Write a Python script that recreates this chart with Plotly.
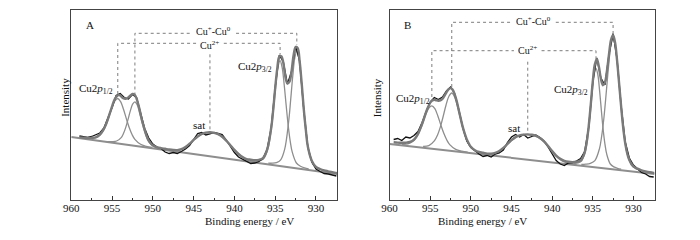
import plotly.graph_objects as go

# ---------------- Panel A data ----------------
A_bg_E = [960, 927.4]
A_bg_I = [63.0, 26.0]

A_c1_E = [958.5, 957.8, 957.1, 956.4, 956.05, 955.7, 955.35, 955.0, 954.65, 954.3,
          953.95, 953.6, 953.25, 952.9, 952.55, 952.2, 951.5, 950.8, 950.1]
A_c1_I = [62.0, 61.6, 62.0, 65.4, 69.5, 75.7, 83.8, 92.4, 99.2, 101.5,
          98.4, 90.8, 81.4, 72.5, 65.5, 60.6, 55.7, 53.7, 52.5]

A_c2_E = [955.55, 955.0, 954.44, 953.88, 953.6, 953.32, 953.04, 952.76, 952.48, 952.2,
          951.92, 951.64, 951.36, 951.08, 950.8, 950.52, 949.96, 949.4, 948.85]
A_c2_I = [58.4, 58.4, 59.0, 62.4, 66.5, 72.6, 80.6, 89.1, 95.8, 98.1,
          95.2, 87.8, 78.7, 70.1, 63.4, 58.6, 53.8, 52.1, 50.9]

A_sat_E = [949, 948, 947, 946.5, 946, 945.5, 945, 944.5, 944, 943.5, 943, 942.5, 942,
           941.5, 941, 940.5, 940, 939.5, 939, 938.5, 938, 937.5, 937]
A_sat_I = [50.6, 49.8, 49.4, 50.4, 52.6, 56.0, 59.8, 63.3, 65.8, 67.2, 67.6, 67.0, 65.6,
           63.0, 59.2, 54.6, 49.8, 45.6, 42.4, 40.2, 38.8, 37.8, 37.1]

A_c4_E = [937.9, 937.4, 936.9, 936.4, 935.9, 935.4, 935.15, 934.9, 934.65, 934.4,
          934.15, 933.9, 933.65, 933.4, 933.15, 932.9, 932.4, 931.9, 931.4, 930.9]
A_c4_I = [39.0, 38.9, 39.4, 41.5, 50.9, 76.2, 95.9, 116.6, 133.2, 139.3,
          132.7, 115.5, 94.2, 74.0, 58.4, 47.6, 37.0, 33.8, 32.1, 31.0]

A_c5_E = [935.85, 935.35, 934.85, 934.35, 933.85, 933.35, 933.1, 932.85, 932.6, 932.35,
          932.1, 931.85, 931.6, 931.35, 931.1, 930.85, 930.35, 929.85, 929.35, 928.85]
A_c5_I = [36.8, 36.8, 37.4, 39.8, 50.3, 78.5, 100.5, 123.7, 142.2, 149.0,
          141.7, 122.6, 98.8, 76.3, 59.0, 47.0, 35.4, 31.8, 30.2, 29.0]

A_env_E = [959, 958.5, 958, 957.5, 957, 956.5, 956, 955.75, 955.5, 955.25, 955, 954.75,
           954.5, 954.25, 954, 953.75, 953.5, 953.25, 953, 952.75, 952.5, 952.25, 952,
           951.75, 951.5, 951.25, 951, 950.75, 950.5, 950.25, 950, 949.5, 949, 948.5, 948,
           947.5, 947, 946.5, 946, 945.5, 945, 944.5, 944, 943.5, 943, 942.5, 942, 941.5,
           941, 940.5, 940, 939.5, 939, 938.5, 938, 937.5, 937, 936.5, 936, 935.5, 935.25,
           935, 934.75, 934.5, 934.25, 934, 933.75, 933.5, 933.25, 933, 932.75, 932.5,
           932.25, 932, 931.75, 931.5, 931.25, 931, 930.5, 930, 929.5, 929, 928.5, 928, 927.4]
A_env_I = [62.6, 62.3, 62.0, 62.2, 62.6, 65.4, 71.2, 75.5, 81.1, 87.3, 93.5, 99.6,
           103.0, 104.9, 104.6, 102.4, 101.5, 101.3, 102.6, 104.5, 106.0, 105.4, 101.5,
           94.6, 85.8, 77.2, 70.4, 64.0, 59.4, 56.5, 54.8, 52.9, 51.9, 51.2, 50.5,
           50.0, 49.9, 50.8, 53.0, 56.3, 60.1, 63.5, 66.0, 67.4, 67.8, 67.2, 65.8, 63.2,
           59.4, 54.8, 50.1, 46.0, 42.9, 40.9, 40.3, 39.8, 40.2, 41.9, 50.1, 71.5, 89.6,
           112.0, 131.4, 143.2, 143.8, 137.0, 123.1, 116.5, 118.3, 128.3, 144.6, 152.8,
           152.0, 138.5, 116.6, 91.2, 70.6, 53.6, 39.1, 33.1, 31.0, 29.6, 28.7, 27.8, 26.8]

A_raw_E = [959.0, 958.5, 958.0, 957.5, 957.0, 956.5, 956.0, 955.5, 955.0, 954.5, 954.0,
           953.5, 953.0, 952.5, 952.0, 951.5, 951.0, 950.5, 950.0, 949.5, 949.0, 948.5,
           948.0, 947.5, 947.0, 946.5, 946.0, 945.5, 945.0, 944.5, 944.0, 943.5, 943.0,
           942.5, 942.0, 941.5, 941.0, 940.5, 940.0, 939.5, 939.0, 938.5, 938.0, 937.5,
           937.0, 936.5, 936.0, 935.5, 935.0, 934.5, 934.0, 933.5, 933.0, 932.5, 932.0,
           931.5, 931.0, 930.5, 930.0, 929.5, 929.0, 928.5, 928.0, 927.5]
A_raw_I = [64.0, 63.0, 62.5, 63.5, 65.5, 67.0, 72.0, 81.5, 92.5, 104.5, 106.5,
           102.5, 101.0, 105.5, 102.5, 87.0, 71.5, 62.0, 56.0, 53.0, 51.5, 48.0,
           46.5, 47.5, 46.5, 48.5, 51.0, 54.5, 60.5, 66.5, 67.5, 65.0, 66.0,
           67.5, 66.5, 65.5, 60.0, 53.0, 47.5, 43.0, 41.0, 38.5, 36.5, 37.0,
           38.5, 41.5, 50.5, 72.0, 113.0, 145.0, 138.0, 116.0, 128.5, 154.0, 139.0,
           91.0, 53.0, 38.0, 31.0, 28.5, 26.5, 26.0, 25.0, 24.0]

# leader lines / labels panel A
A_mix_E = [952.2, 932.35]
A_mix_top = [104.5, 155.0]
A_mix_level = 166.7
A_mix_label_E = 942.55
A_cu2_E = [954.3, 934.4]
A_cu2_top = [106.0, 145.5]
A_cu2_level = 156.7
A_cu2_label_E = 943.0
A_sat_peak = [943.0, 69.5]

# ---------------- Panel B data ----------------
B_bg_E = [960, 927.4]
B_bg_I = [56.0, 26.0]

B_c1_E = [958.48, 957.74, 957.0, 956.64, 956.27, 955.9, 955.54, 955.17, 954.8,
          954.43, 954.06, 953.7, 953.33, 952.96, 952.6, 951.86, 951.12, 950.39]
B_c1_I = [55.7, 56.1, 59.4, 63.4, 69.4, 77.1, 85.4, 92.0, 94.2,
          91.3, 84.0, 75.1, 66.7, 60.0, 55.4, 50.7, 48.9, 47.9]

B_c2_E = [955.88, 955.17, 954.47, 954.11, 953.76, 953.41, 953.06, 952.7, 952.35,
          952.0, 951.64, 951.29, 950.94, 950.59, 950.23, 949.53, 948.82, 948.11]
B_c2_I = [53.7, 54.4, 59.3, 64.8, 72.9, 83.5, 94.8, 103.8, 107.0,
          103.1, 93.5, 81.6, 70.3, 61.6, 55.4, 49.3, 47.2, 46.0]

B_sat_E = [948.5, 948, 947.5, 947, 946.5, 946, 945.5, 945, 944.5, 944, 943.5, 943, 942.5,
           942, 941.5, 941, 940.5, 940, 939.5, 939, 938.5, 938, 937.5, 937]
B_sat_I = [45.6, 45.2, 45.4, 46.4, 48.4, 51.6, 55.6, 59.6, 62.6, 64.4, 65.2, 65.4, 65.0,
           63.8, 61.6, 58.2, 53.6, 48.4, 43.8, 40.4, 38.2, 36.8, 35.9, 35.3]

B_c4_E = [937.69, 937.25, 936.8, 936.36, 935.92, 935.7, 935.48, 935.26, 935.04, 934.82, 934.6,
          934.38, 934.16, 933.94, 933.72, 933.5, 933.28, 932.84, 932.4, 931.95, 931.51]
B_c4_I = [36.5, 36.6, 37.1, 39.2, 48.2, 57.9, 72.0, 90.6, 110.2, 125.9, 131.6,
          125.5, 109.4, 89.4, 70.4, 55.9, 45.8, 36.0, 33.1, 31.7, 30.8]

B_c5_E = [936.41, 935.85, 935.3, 934.74, 934.18, 933.9, 933.62, 933.34, 933.06, 932.78, 932.5,
          932.22, 931.94, 931.66, 931.38, 931.1, 930.82, 930.26, 929.7, 929.15, 928.59]
B_c5_I = [35.6, 35.8, 36.6, 39.4, 51.2, 64.1, 82.8, 107.5, 133.4, 154.0, 161.7,
          153.5, 132.4, 105.9, 80.8, 61.5, 48.1, 35.2, 31.4, 29.6, 28.4]

B_env_E = [959.5, 959, 958.5, 958, 957.5, 957, 956.5, 956.25, 956, 955.75, 955.5, 955.25,
           955, 954.75, 954.5, 954.25, 954, 953.75, 953.5, 953.25, 953, 952.75, 952.5,
           952.25, 952, 951.75, 951.5, 951.25, 951, 950.75, 950.5, 950.25, 950, 949.5,
           949, 948.5, 948, 947.5, 947, 946.5, 946, 945.5, 945, 944.5, 944, 943.5, 943,
           942.5, 942, 941.5, 941, 940.5, 940, 939.5, 939, 938.5, 938, 937.5, 937, 936.5,
           936.25, 936, 935.75, 935.5, 935.25, 935, 934.75, 934.5, 934.25, 934, 933.75,
           933.5, 933.25, 933, 932.75, 932.5, 932.25, 932, 931.75, 931.5, 931.25, 931,
           930.75, 930.5, 930, 929.5, 929, 928.5, 928, 927.4]
B_env_I = [57.8, 57.4, 57.2, 57.3, 58.0, 60.4, 66.2, 70.9, 76.2, 82.1, 88.1, 93.2,
           97.4, 99.6, 100.3, 99.7, 99.3, 99.6, 101.1, 104.2, 107.7, 110.7, 111.9,
           110.5, 105.9, 99.1, 90.3, 81.4, 73.1, 66.4, 60.6, 56.5, 53.2, 49.8,
           48.0, 47.3, 46.4, 46.4, 47.2, 49.0, 52.1, 56.0, 59.9, 62.9, 64.6, 65.4, 65.6,
           65.2, 64.1, 61.9, 58.6, 54.0, 48.9, 44.4, 41.2, 39.2, 38.2, 37.9, 38.2, 39.5,
           42.5, 47.4, 57.7, 73.9, 95.1, 118.3, 135.4, 141.1, 133.4, 121.3, 114.8,
           117.6, 129.4, 145.8, 160.2, 164.8, 157.3, 138.8, 115.9, 92.6, 71.9, 56.4,
           46.3, 40.1, 33.6, 31.3, 29.7, 28.6, 27.7, 26.9]

B_raw_E = [959.5, 959.0, 958.5, 958.0, 957.5, 957.0, 956.5, 956.0, 955.5, 955.0, 954.5,
           954.0, 953.5, 953.0, 952.5, 952.0, 951.5, 951.0, 950.5, 950.0, 949.5, 949.0,
           948.5, 948.0, 947.5, 947.0, 946.5, 946.0, 945.5, 945.0, 944.5, 944.0, 943.5,
           943.0, 942.5, 942.0, 941.5, 941.0, 940.5, 940.0, 939.5, 939.0, 938.5, 938.0,
           937.5, 937.0, 936.5, 936.0, 935.5, 935.0, 934.5, 934.0, 933.5, 933.0, 932.5,
           932.0, 931.5, 931.0, 930.5, 930.0, 929.5, 929.0, 928.5, 928.0, 927.5]
B_raw_I = [60.5, 61.5, 59.5, 63.0, 62.0, 64.5, 68.5, 77.5, 88.5, 98.0, 102.5,
           100.5, 103.0, 109.0, 113.0, 106.5, 91.0, 73.0, 59.0, 52.5, 49.5, 46.0,
           43.5, 44.5, 43.0, 46.0, 47.0, 50.0, 57.5, 63.0, 65.5, 63.0, 65.5,
           62.0, 63.5, 65.0, 62.5, 59.0, 53.0, 45.5, 39.5, 36.0, 34.5, 37.0,
           37.5, 39.0, 41.5, 48.5, 73.0, 118.0, 142.0, 122.0, 115.0, 146.0, 166.5,
           140.0, 94.0, 58.0, 42.0, 35.0, 31.0, 27.5, 26.0, 23.5, 23.0]

B_mix_E = [952.35, 932.5]
B_mix_top = [113.0, 167.0]
B_mix_level = 177.7
B_mix_label_E = 942.3
B_cu2_E = [954.8, 934.6]
B_cu2_top = [103.0, 140.0]
B_cu2_level = 149.3
B_cu2_label_E = 943.0
B_sat_peak = [943.0, 66.5]

tick_vals = [960, 955, 950, 945, 940, 935, 930]
tick_text = ["960", "955", "950", "945", "940", "935", "930"]
x_range = [960, 927.4]
y_range = [0, 190]

FONT = "Liberation Serif, Times New Roman, serif"
GRAY_THICK = "#7a7a7a"
GRAY_THIN = "#8e8e8e"
LEADER = "#7d7d7d"
MIX_GAP = 2.75   # half width (eV) of the break in the dotted line around "Cu+-Cu0"
CU2_GAP = 1.7    # half width (eV) of the break around "Cu2+"
SAT_DROP = 11    # start of the sat leader below the Cu2+ label (intensity units)

fig = go.Figure()


def add_panel(xa, ya, bgE, bgI, comps, satE, satI, envE, envI, rawE, rawI,
              mixE, mixTop, mixLevel, mixLab, cuE, cuTop, cuLevel, cuLab, satPeak):
    fig.add_trace(go.Scatter(
        x=[mixE[0], mixE[0], mixLab + MIX_GAP, None, mixLab - MIX_GAP, mixE[1], mixE[1]],
        y=[mixTop[0], mixLevel, mixLevel, None, mixLevel, mixLevel, mixTop[1]],
        mode="lines", xaxis=xa, yaxis=ya, hoverinfo="skip", connectgaps=False,
        line=dict(color=LEADER, width=1, dash="dot")))
    fig.add_trace(go.Scatter(
        x=[cuE[0], cuE[0], cuLab + CU2_GAP, None, cuLab - CU2_GAP, cuE[1], cuE[1]],
        y=[cuTop[0], cuLevel, cuLevel, None, cuLevel, cuLevel, cuTop[1]],
        mode="lines", xaxis=xa, yaxis=ya, hoverinfo="skip", connectgaps=False,
        line=dict(color=LEADER, width=1, dash="dot")))
    fig.add_trace(go.Scatter(x=[satPeak[0], satPeak[0]], y=[cuLevel - SAT_DROP, satPeak[1]],
                             mode="lines", xaxis=xa, yaxis=ya, hoverinfo="skip",
                             line=dict(color=LEADER, width=1, dash="dot")))
    fig.add_trace(go.Scatter(x=bgE, y=bgI, mode="lines", xaxis=xa, yaxis=ya,
                             line=dict(color=GRAY_THIN, width=2)))
    for cE, cI in comps:
        fig.add_trace(go.Scatter(x=cE, y=cI, mode="lines", xaxis=xa, yaxis=ya,
                                 line=dict(color=GRAY_THIN, width=1.3, shape="spline", smoothing=1)))
    fig.add_trace(go.Scatter(x=satE, y=satI, mode="lines", xaxis=xa, yaxis=ya,
                             line=dict(color=GRAY_THIN, width=1.3, shape="spline", smoothing=1)))
    fig.add_trace(go.Scatter(x=rawE, y=rawI, mode="lines", xaxis=xa, yaxis=ya,
                             line=dict(color="#111111", width=1.3)))
    fig.add_trace(go.Scatter(x=envE, y=envI, mode="lines", xaxis=xa, yaxis=ya,
                             line=dict(color=GRAY_THICK, width=2.4, shape="spline", smoothing=1)))


add_panel("x", "y", A_bg_E, A_bg_I,
          [(A_c1_E, A_c1_I), (A_c2_E, A_c2_I), (A_c4_E, A_c4_I), (A_c5_E, A_c5_I)],
          A_sat_E, A_sat_I, A_env_E, A_env_I, A_raw_E, A_raw_I,
          A_mix_E, A_mix_top, A_mix_level, A_mix_label_E,
          A_cu2_E, A_cu2_top, A_cu2_level, A_cu2_label_E, A_sat_peak)
add_panel("x2", "y2", B_bg_E, B_bg_I,
          [(B_c1_E, B_c1_I), (B_c2_E, B_c2_I), (B_c4_E, B_c4_I), (B_c5_E, B_c5_I)],
          B_sat_E, B_sat_I, B_env_E, B_env_I, B_raw_E, B_raw_I,
          B_mix_E, B_mix_top, B_mix_level, B_mix_label_E,
          B_cu2_E, B_cu2_top, B_cu2_level, B_cu2_label_E, B_sat_peak)

xaxis_common = dict(range=x_range, tickmode="array", tickvals=tick_vals, ticktext=tick_text,
                    ticks="inside", ticklen=4, tickcolor="#333", tickwidth=1,
                    ticklabelstandoff=-2,
                    minor=dict(ticks="inside", ticklen=2, tickcolor="#333", dtick=2.5, tick0=930),
                    showline=True, mirror=True, linecolor="#444", linewidth=1,
                    showgrid=False, zeroline=False,
                    tickfont=dict(family=FONT, size=11, color="#111"))
yaxis_common = dict(range=y_range, showticklabels=False, ticks="", showline=True, mirror=True,
                    linecolor="#444", linewidth=1, showgrid=False, zeroline=False)

fig.update_layout(
    width=700, height=240,
    margin=dict(l=0, r=0, t=10, b=40),
    paper_bgcolor="white", plot_bgcolor="white",
    showlegend=False,
    xaxis=dict(domain=[64 / 700, 333 / 700], anchor="y", **xaxis_common),
    yaxis=dict(domain=[0, 1], anchor="x", **yaxis_common),
    xaxis2=dict(domain=[386 / 700, 654 / 700], anchor="y2", **xaxis_common),
    yaxis2=dict(domain=[0, 1], anchor="x2", **yaxis_common),
    font=dict(family=FONT, size=11, color="#111"),
)

ann = []


def lab(text, x, y, xref, yref, size=11, **kw):
    ann.append(dict(text=text, x=x, y=y, xref=xref, yref=yref, showarrow=False,
                    font=dict(family=FONT, size=size, color="#111"), **kw))


# panel A labels
lab("A", 957.67, 175, "x", "y")
lab("Cu<sup>+</sup>-Cu<sup>0</sup>", A_mix_label_E, A_mix_level + 2.0, "x", "y", size=10)
lab("Cu<sup>2+</sup>", A_cu2_label_E, A_cu2_level - 1.5, "x", "y", size=10)
lab("Cu2<i>p</i><sub>1/2</sub>", 957.0, 111, "x", "y")
lab("Cu2<i>p</i><sub>3/2</sub>", 937.5, 133, "x", "y")
lab("sat", 944.4, 75, "x", "y")
# panel B labels
lab("B", 957.8, 175, "x2", "y2")
lab("Cu<sup>+</sup>-Cu<sup>0</sup>", B_mix_label_E, B_mix_level + 1.0, "x2", "y2", size=10)
lab("Cu<sup>2+</sup>", B_cu2_label_E, B_cu2_level + 0.5, "x2", "y2", size=10)
lab("Cu2<i>p</i><sub>1/2</sub>", 957.1, 101.5, "x2", "y2")
lab("Cu2<i>p</i><sub>3/2</sub>", 937.7, 110, "x2", "y2")
lab("sat", 944.7, 72, "x2", "y2")
# axis titles
lab("Binding energy / eV", 197 / 700, -0.108, "paper", "paper", yanchor="middle")
lab("Binding energy / eV", 527 / 700, -0.108, "paper", "paper", yanchor="middle")
lab("Intensity", 50 / 700, 0.54, "paper", "paper", textangle=-90)
lab("Intensity", 374 / 700, 0.54, "paper", "paper", textangle=-90)

fig.update_layout(annotations=ann)
fig.write_html("out.html", config={"displayModeBar": False},
               post_script="document.body.style.margin='0px';")
